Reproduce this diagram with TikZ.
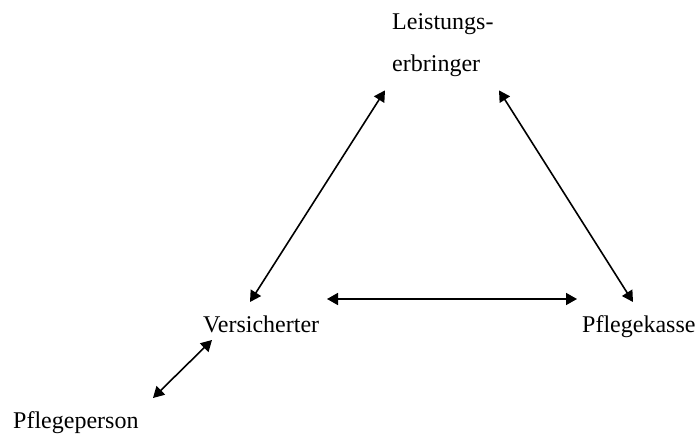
\documentclass[tikz,border=0pt]{standalone}
\usepackage{fontspec}
\setmainfont{Liberation Serif}
\usetikzlibrary{arrows.meta,positioning}
\tikzstyle{Party} = [inner sep=0pt, font=\fontsize{24}{42}\selectfont]
\tikzstyle{Link} = [{Triangle[length=11pt,width=12pt]}-{Triangle[length=11pt,width=12pt]}, line width=1.6pt]

\begin{document}
\begin{tikzpicture}[x=1pt,y=1pt]
    \useasboundingbox (0,0) rectangle (696,434);
    \node[Party, anchor=base west, align=left] (provider) at (392,362) {Leistungs-\\erbringer};
    \node[Party, anchor=base west] (insured)  at (203,101) {Versicherter};
    \node[Party, anchor=base west] (fund)     at (582,101) {Pflegekasse};
    \node[Party, anchor=base west] (carer)    at (13,6)    {Pflegeperson};
    \draw[Link] ([xshift=47pt,yshift=31pt]insured.base west) -- ([xshift=-7pt,yshift=-13pt]provider.south west);
    \draw[Link] ([xshift=107pt,yshift=-13pt]provider.south west) -- ([xshift=51pt,yshift=31pt]fund.base west);
    \draw[Link] ([xshift=124pt,yshift=34pt]insured.base west) -- ([xshift=-5pt,yshift=34pt]fund.base west);
    \draw[Link] ([xshift=9pt,yshift=-7pt]insured.base west) -- ([xshift=140pt,yshift=30pt]carer.base west);
  \end{tikzpicture}
\end{document}
